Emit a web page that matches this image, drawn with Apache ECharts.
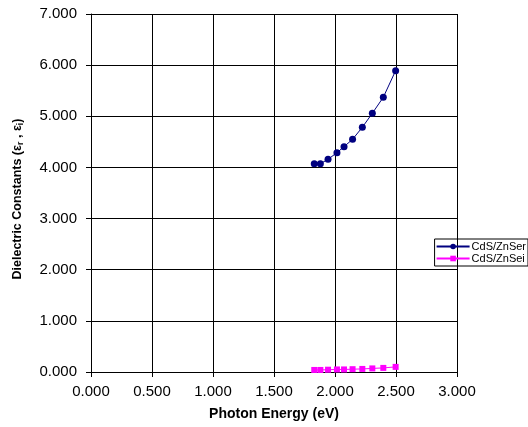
<!DOCTYPE html>
<html><head><meta charset="utf-8">
<script src="https://cdn.jsdelivr.net/npm/echarts@6/dist/echarts.min.js"></script>
<style>html,body{margin:0;padding:0;background:#fff}#c{width:528px;height:427px}</style>
</head><body><div id="c"></div>
<script>
var energy = [1.830, 1.880, 1.943, 2.016, 2.074, 2.144, 2.224, 2.306, 2.396, 2.497];
var epsReal = [4.073, 4.073, 4.159, 4.288, 4.406, 4.550, 4.785, 5.059, 5.372, 5.892];
var epsImag = [0.040, 0.040, 0.045, 0.050, 0.050, 0.055, 0.060, 0.070, 0.080, 0.100];
var seriesNames = ['CdS/ZnSer', 'CdS/ZnSei'];

function pairs(xs, ys){ return xs.map(function(x,i){return [x, ys[i]];}); }

var chart = echarts.init(document.getElementById('c'));
var F = 'Liberation Sans, Arial, sans-serif';
chart.setOption({
  animation: false,
  grid: {left: 91, right: 71, top: 14, bottom: 55},
  legend: {
    right: 0, top: 239, orient: 'vertical', itemGap: 1, itemWidth: 33, itemHeight: 7,
    borderColor: '#000', borderWidth: 1, padding: [2, 2, 2, 1],
    textStyle: {fontFamily: F, fontSize: 11, lineHeight: 11, color: '#000', padding: [0,0,0,-3]},
    data: seriesNames
  },
  xAxis: {
    type: 'value', min: 0, max: 3, interval: 0.5,
    name: 'Photon Energy (eV)', nameLocation: 'middle', nameGap: 35,
    nameTextStyle: {fontFamily: F, fontSize: 14, fontWeight: 'bold', color: '#000'},
    axisLine: {lineStyle: {color: '#000', width: 1}},
    axisTick: {show: true, length: 5, lineStyle: {color: '#000'}},
    axisLabel: {fontFamily: F, fontSize: 15, color: '#000', margin: 12, formatter: function(v){return v.toFixed(3);}},
    splitLine: {show: true, lineStyle: {color: '#000', width: 1}}
  },
  yAxis: {
    type: 'value', min: 0, max: 7, interval: 1,
    name: '{b|Dielectric Constants (ε}{s|r}{b| , ε}{s|i}{b|)}', nameLocation: 'middle', nameGap: 66, nameRotate: 90,
    nameTextStyle: {padding: [0, 12, 0, 0], rich: {
      b: {fontFamily: F, fontSize: 12.5, fontWeight: 'bold', color: '#000'},
      s: {fontFamily: F, fontSize: 9, fontWeight: 'bold', color: '#000', verticalAlign: 'bottom', padding: [5,0,0,0]}
    }},
    axisLine: {show: true, lineStyle: {color: '#000', width: 1}},
    axisTick: {show: true, length: 5, lineStyle: {color: '#000'}},
    axisLabel: {fontFamily: F, fontSize: 15, color: '#000', margin: 14, formatter: function(v){return v.toFixed(3);}},
    splitLine: {show: true, lineStyle: {color: '#000', width: 1}}
  },
  series: [
    {name: seriesNames[0], type: 'line', data: pairs(energy, epsReal), symbol: 'circle', symbolSize: 7,
     itemStyle: {color: '#000080'}, lineStyle: {color: '#000080', width: 1}},
    {name: seriesNames[1], type: 'line', data: pairs(energy, epsImag), symbol: 'rect', symbolSize: 6,
     itemStyle: {color: '#FF00FF'}, lineStyle: {color: '#FF00FF', width: 1}}
  ]
});
</script></body></html>
